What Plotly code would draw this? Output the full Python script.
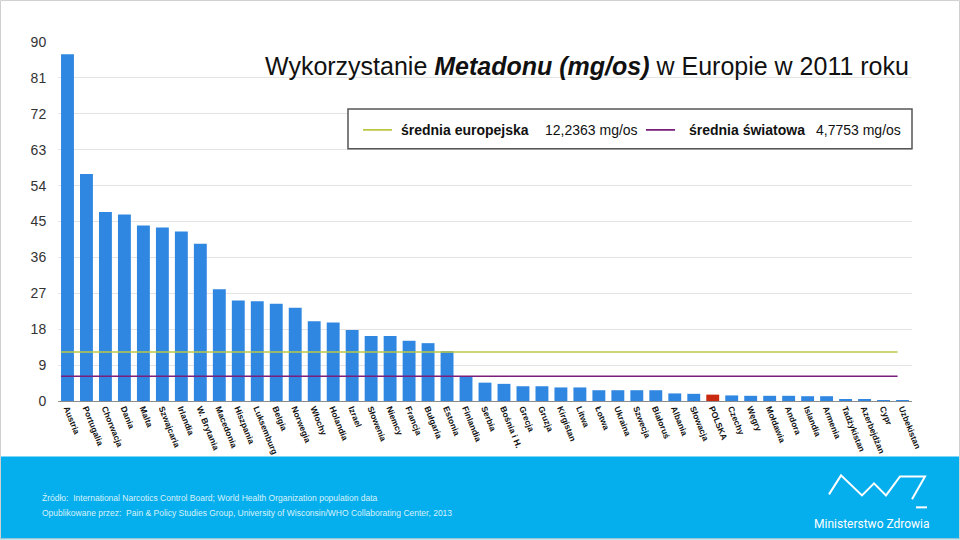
import plotly.graph_objects as go

countries = ["Austria", "Portugalia", "Chorwacja", "Dania", "Malta", "Szwajcaria", "Irlandia",
             "W. Brytania", "Macedonia", "Hiszpania", "Luksemburg", "Belgia", "Norwegia", "Włochy",
             "Holandia", "Izrael", "Słowenia", "Niemcy", "Francja", "Bułgaria", "Estonia",
             "Finlandia", "Serbia", "Bośnia i H.", "Grecja", "Gruzja", "Kirgistan", "Litwa",
             "Łotwa", "Ukraina", "Szwecja", "Białoruś", "Albania", "Słowacja", "POLSKA", "Czechy",
             "Węgry", "Mołdawia", "Andora", "Islandia", "Armenia", "Tadżykistan", "Azerbejdżan",
             "Cypr", "Uzbekistan"]
values = [86.9, 56.9, 47.4, 46.75, 44.0, 43.5, 42.5,
          39.4, 28.0, 25.2, 25.0, 24.4, 23.4, 20.0,
          19.7, 17.8, 16.3, 16.3, 15.1, 14.5, 12.5,
          6.2, 4.6, 4.3, 3.7, 3.7, 3.4, 3.4,
          2.7, 2.7, 2.7, 2.7, 1.9, 1.8, 1.6, 1.4,
          1.3, 1.3, 1.3, 1.2, 1.2, 0.45, 0.45,
          0.05, 0.02]
highlight = "POLSKA"
y_ticks = [0, 9, 18, 27, 36, 45, 54, 63, 72, 81, 90]

eu_avg_line = 12.3
world_avg_line = 6.2
eu_label = "średnia europejska"
eu_value_text = "12,2363 mg/os"
world_label = "średnia światowa"
world_value_text = "4,7753 mg/os"

title_html = "Wykorzystanie <b><i>Metadonu (mg/os)</i></b> w Europie w 2011 roku"
source_line1 = "Źródło:\u00a0 International Narcotics Control Board; World Health Organization population data"
source_line2 = "Opublikowane przez:\u00a0 Pain &amp; Policy Studies Group, University of Wisconsin/WHO Collaborating Center, 2013"
logo_text = "Ministerstwo Zdrowia"

# ---- layout geometry (pixels) ----
W, H = 960, 540
L, R, T, B = 58, 48, 42, 138.5
PW = W - L - R
PH = H - T - B


def X(px):
    return (px - L) / PW


def Y(py):
    return (H - B - py) / PH


FONT = "Liberation Sans, Arial, Helvetica, sans-serif"

bar_colors = ["#C8290F" if c == highlight else "#2F87E2" for c in countries]

fig = go.Figure()
fig.add_trace(go.Bar(
    x=countries, y=values,
    marker=dict(color=bar_colors, line=dict(width=0)),
    hoverinfo="x+y",
))

shapes = []
annotations = []

# average lines
shapes.append(dict(type="line", xref="x", yref="y", x0=-0.34, x1=43.74,
                   y0=eu_avg_line, y1=eu_avg_line, line=dict(color="#BCC845", width=1.6)))
shapes.append(dict(type="line", xref="x", yref="y", x0=-0.34, x1=43.74,
                   y0=world_avg_line, y1=world_avg_line, line=dict(color="#7A1F7C", width=1.6)))

# legend box
shapes.append(dict(type="rect", xref="paper", yref="paper", x0=X(348), x1=X(912), y0=Y(149), y1=Y(109),
                   line=dict(color="#555555", width=1.5), fillcolor="white", layer="above"))
shapes.append(dict(type="line", xref="paper", yref="paper", x0=X(363), x1=X(392), y0=Y(130), y1=Y(130),
                   line=dict(color="#BCC845", width=1.8)))
shapes.append(dict(type="line", xref="paper", yref="paper", x0=X(646), x1=X(675), y0=Y(130), y1=Y(130),
                   line=dict(color="#7A1F7C", width=1.8)))
for txt, xp, bold in [(eu_label, 399, True), (eu_value_text, 543, False),
                      (world_label, 687, True), (world_value_text, 814, False)]:
    annotations.append(dict(xref="paper", yref="paper", x=X(xp), y=Y(130), xanchor="left", yanchor="middle",
                            text=f"<b>{txt}</b>" if bold else txt, showarrow=False,
                            font=dict(family=FONT, size=14, color="#111111")))

# title
annotations.append(dict(xref="paper", yref="paper", x=X(911), y=Y(66), xanchor="right", yanchor="middle",
                        text=title_html, showarrow=False,
                        font=dict(family=FONT, size=25, color="#111111")))

# footer band
shapes.append(dict(type="rect", xref="paper", yref="paper", x0=X(0), x1=X(960), y0=Y(540), y1=Y(457),
                   line=dict(width=0), fillcolor="#05AEEC", layer="above"))
annotations.append(dict(xref="paper", yref="paper", x=X(40), y=Y(499), xanchor="left", yanchor="middle",
                        text=source_line1, showarrow=False,
                        font=dict(family=FONT, size=8.5, color="#D8F2FD")))
annotations.append(dict(xref="paper", yref="paper", x=X(40), y=Y(514), xanchor="left", yanchor="middle",
                        text=source_line2, showarrow=False,
                        font=dict(family=FONT, size=8.5, color="#D8F2FD")))

# logo
pts = [(829, 495), (841, 476), (862, 496), (874, 484), (886, 496), (900, 477), (925, 477), (912, 500)]
path = "M " + " L ".join(f"{X(a):.5f} {Y(b):.5f}" for a, b in pts)
shapes.append(dict(type="path", xref="paper", yref="paper", path=path,
                   line=dict(color="white", width=2), layer="above"))
shapes.append(dict(type="line", xref="paper", yref="paper", x0=X(916), x1=X(927), y0=Y(508), y1=Y(508),
                   line=dict(color="white", width=2), layer="above"))
annotations.append(dict(xref="paper", yref="paper", x=X(872), y=Y(525), xanchor="center", yanchor="middle",
                        text=logo_text, showarrow=False,
                        font=dict(family="Roboto, sans-serif", size=12, color="white")))

# slide frame
shapes.append(dict(type="rect", xref="paper", yref="paper", x0=X(0.5), x1=X(959.5), y0=Y(539.5), y1=Y(0.5),
                   line=dict(color="#D0D0D0", width=1), layer="above"))

fig.update_layout(
    width=W, height=H,
    margin=dict(l=L, r=R, t=T, b=B, pad=0),
    paper_bgcolor="white", plot_bgcolor="white",
    bargap=0.32,
    showlegend=False,
    shapes=shapes,
    annotations=annotations,
    xaxis=dict(
        type="category", tickangle=68, automargin=False,
        tickfont=dict(family=FONT, size=8.5, color="#111111", weight="bold"),
        showgrid=False, showline=False, ticks="", ticklen=0,
    ),
    yaxis=dict(
        range=[0, 90], tickvals=y_ticks, automargin=False,
        tickfont=dict(family=FONT, size=14, color="#333333"),
        showgrid=True, gridcolor="#E4E4E4", gridwidth=1,
        zeroline=True, zerolinecolor="#8C8C8C", zerolinewidth=1,
        ticks="outside", ticklen=8, tickcolor="rgba(0,0,0,0)",
        showline=False,
    ),
)

fig.write_html(
    "out.html",
    config={"displayModeBar": False},
    post_script="document.body.style.margin='0';document.body.style.padding='0';"
                "document.documentElement.style.overflow='hidden';",
)
